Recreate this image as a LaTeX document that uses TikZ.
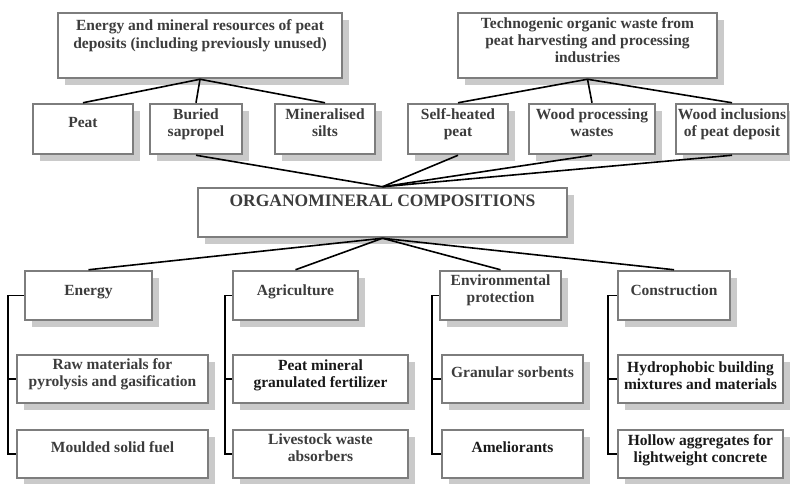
\documentclass[tikz,border=0pt]{standalone}
\usepackage{fontspec}
\setmainfont{Liberation Serif}
\usetikzlibrary{shadows}
\definecolor{boxline}{RGB}{125,125,125}
\definecolor{boxshadow}{RGB}{202,202,202}
\definecolor{boxtext}{RGB}{60,60,60}
\definecolor{boxtextdark}{RGB}{25,25,25}
% text block with extra depth below, so it sits above the box centre
\newcommand{\boxlabel}[2][9pt]{\raisebox{0pt}[\height][\dimexpr\depth+#1\relax]{\begin{tabular}{@{}c@{}}#2\end{tabular}}}

\begin{document}
\begin{tikzpicture}[x=1pt,y=-1pt,
  box/.style={draw=boxline,line width=2.5pt,fill=white,
    drop shadow={shadow xshift=7pt,shadow yshift=-7pt,fill=boxshadow,opacity=1},
    text=boxtext,font=\fontsize{15.5}{16.8}\selectfont\bfseries,inner xsep=1pt,inner ysep=2pt},
  darkbox/.style={box,text=boxtextdark},
  link/.style={line width=1.6pt,black}]
\useasboundingbox (0,0) rectangle (790,483);

% sources
\node[box,minimum width=284pt,minimum height=65pt,font=\fontsize{15.5}{18}\selectfont\bfseries] (res) at (200,45.5) {\boxlabel[20pt]{Energy and mineral resources of peat\\deposits (including previously unused)}};
\node[box,minimum width=259pt,minimum height=65pt] (tech) at (587.5,45.5) {\boxlabel[7pt]{Technogenic organic waste from\\peat harvesting and processing\\industries}};

\node[box,minimum width=100pt,minimum height=50pt] (peat) at (83,129) {\boxlabel[10pt]{Peat}};
\node[box,minimum width=92pt,minimum height=50pt] (sapropel) at (196,129) {\boxlabel{Buried\\sapropel}};
\node[box,minimum width=100pt,minimum height=50pt] (silts) at (325,129) {\boxlabel{Mineralised\\silts}};
\node[box,minimum width=100pt,minimum height=50pt] (selfheat) at (458,129) {\boxlabel{Self-heated\\peat}};
\node[box,minimum width=126pt,minimum height=50pt] (woodwaste) at (592,129) {\boxlabel{Wood processing\\wastes}};
\node[box,minimum width=112pt,minimum height=50pt] (woodincl) at (732,129) {\boxlabel{Wood inclusions\\of peat deposit}};

% centre
\node[box,minimum width=369pt,minimum height=49pt,font=\fontsize{17.5}{20}\selectfont\bfseries] (comp) at (382.5,212.5) {\boxlabel[21pt]{ORGANOMINERAL COMPOSITIONS}};

% fields of use
\node[box,minimum width=127pt,minimum height=49pt] (energy) at (88.5,295.5) {\boxlabel[7pt]{Energy}};
\node[box,minimum width=125pt,minimum height=49pt] (agri) at (295.5,295.5) {\boxlabel[7pt]{Agriculture}};
\node[box,minimum width=121pt,minimum height=49pt] (env) at (500.5,295.5) {\boxlabel{Environmental\\protection}};
\node[box,minimum width=112pt,minimum height=49pt] (constr) at (674,295.5) {\boxlabel[7pt]{Construction}};

\node[box,minimum width=191pt,minimum height=48pt] (raw) at (112.5,379) {\boxlabel{Raw materials for\\pyrolysis and gasification}};
\node[darkbox,minimum width=175pt,minimum height=48pt] (fert) at (320.5,379) {\boxlabel[7pt]{Peat mineral\\granulated fertilizer}};
\node[box,minimum width=141pt,minimum height=48pt] (sorb) at (512.5,379) {\boxlabel{Granular sorbents}};
\node[darkbox,minimum width=165pt,minimum height=48pt] (hydro) at (700.5,379) {\boxlabel[3pt]{Hydrophobic building\\mixtures and materials}};

\node[box,minimum width=191pt,minimum height=48pt] (fuel) at (112.5,454) {\boxlabel{Moulded solid fuel}};
\node[box,minimum width=175pt,minimum height=48pt] (absorb) at (320.5,454) {\boxlabel{Livestock waste\\absorbers}};
\node[darkbox,minimum width=141pt,minimum height=48pt] (amel) at (512.5,454) {\boxlabel{Ameliorants}};
\node[darkbox,minimum width=165pt,minimum height=48pt] (hollow) at (700.5,454) {\boxlabel[6pt]{Hollow aggregates for\\lightweight concrete}};

\coordinate (ebus) at (8,0);
\coordinate (abus) at (225,0);
\coordinate (pbus) at (432,0);
\coordinate (cbus) at (608,0);

% connectors
\foreach \n in {peat,sapropel,silts}
  \draw[link] (res.south) -- (\n.north);
\foreach \n in {selfheat,woodwaste,woodincl}
  \draw[link] (tech.south) -- (\n.north);
\foreach \n in {sapropel,selfheat,woodwaste,woodincl}
  \draw[link] (\n.south) -- (comp.north);
\foreach \n in {energy,agri,env,constr}
  \draw[link] (comp.south) -- (\n.north);

\foreach \t/\m/\b/\bus in {energy/raw/fuel/ebus,agri/fert/absorb/abus,env/sorb/amel/pbus,constr/hydro/hollow/cbus}{
  \draw[link,line width=1.4pt] (\t.west) -- (\t.west -| \bus) |- (\b.west);
  \draw[link,line width=1.4pt] (\m.west) -- (\m.west -| \bus);
}
\end{tikzpicture}
\end{document}
